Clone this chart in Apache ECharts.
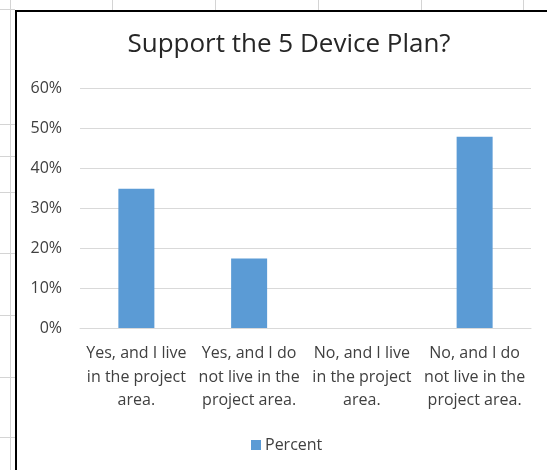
<!DOCTYPE html>
<html>
<head>
<meta charset="utf-8">
<script src="https://cdn.jsdelivr.net/npm/echarts@6/dist/echarts.min.js"></script>
<style>
  html, body { margin: 0; padding: 0; background: #ffffff; }
  #chart { width: 547px; height: 470px; }
</style>
</head>
<body>
<div id="chart"></div>
<script>
// Survey answers and share of respondents (percent)
const categories = [
  'Yes, and I live in the project area.',
  'Yes, and I do not live in the project area.',
  'No, and I live in the project area.',
  'No, and I do not live in the project area.'
];
const percentValues = [34.8, 17.4, 0, 47.8];
const yTicks = [0, 10, 20, 30, 40, 50, 60];
const seriesName = 'Percent';
const chartTitle = 'Support the 5 Device Plan?';

// Wrapped label text for each category
const wrappedLabels = [
  'Yes, and I live\nin the project\narea.',
  'Yes, and I do\nnot live in the\nproject area.',
  'No, and I live\nin the project\narea.',
  'No, and I do\nnot live in the\nproject area.'
];

const FONT = '"Open Sans", "Noto Sans", sans-serif';
const chart = echarts.init(document.getElementById('chart'), null, { renderer: 'canvas' });

// Worksheet cell lines behind the chart frame
const sheetGray = '#d4d4d4';
const sheetLines = [];
[9, 124, 156, 192, 253, 315, 377, 437].forEach(function (y) {
  sheetLines.push({ type: 'line', shape: { x1: 0, y1: y + 0.5, x2: 15, y2: y + 0.5 }, style: { stroke: sheetGray, lineWidth: 1 }, z: 0 });
});
sheetLines.push({ type: 'line', shape: { x1: 10.5, y1: 0, x2: 10.5, y2: 470 }, style: { stroke: sheetGray, lineWidth: 1 }, z: 0 });
[112, 215, 318, 421, 523].forEach(function (x) {
  sheetLines.push({ type: 'line', shape: { x1: x + 0.5, y1: 0, x2: x + 0.5, y2: 10 }, style: { stroke: sheetGray, lineWidth: 1 }, z: 0 });
});
// Chart frame (left and top edges)
sheetLines.push({ type: 'polyline', shape: { points: [[16, 470], [16, 11], [547, 11]] }, style: { stroke: '#000000', lineWidth: 2, fill: null }, z: 1 });

chart.setOption({
  animation: false,
  backgroundColor: '#ffffff',
  graphic: sheetLines,
  title: {
    text: chartTitle,
    left: 284,
    textAlign: 'center',
    top: 27,
    textStyle: { fontFamily: FONT, fontSize: 26, fontWeight: 'normal', color: '#262626' }
  },
  legend: {
    data: [seriesName],
    left: 246,
    top: 432,
    itemWidth: 10,
    itemHeight: 10,
    itemGap: 6,
    icon: 'rect',
    textStyle: { fontFamily: FONT, fontSize: 16, color: '#404040', padding: [0, 0, 0, -1] }
  },
  grid: { left: 80, right: 16, top: 88, bottom: 142, containLabel: false },
  xAxis: {
    type: 'category',
    data: categories,
    axisLine: { lineStyle: { color: '#d9d9d9', width: 1 } },
    axisTick: { show: false },
    axisLabel: {
      interval: 0,
      margin: 14,
      lineHeight: 23.5,
      fontFamily: FONT,
      fontSize: 16,
      color: '#404040',
      formatter: function (v, i) { return wrappedLabels[i]; }
    }
  },
  yAxis: {
    type: 'value',
    min: yTicks[0],
    max: yTicks[yTicks.length - 1],
    interval: 10,
    axisLine: { show: false },
    axisTick: { show: false },
    splitLine: { lineStyle: { color: '#d9d9d9', width: 1 } },
    axisLabel: {
      margin: 18,
      fontFamily: FONT,
      fontSize: 16,
      color: '#404040',
      formatter: function (v) { return v + '%'; }
    }
  },
  series: [{
    name: seriesName,
    type: 'bar',
    data: percentValues,
    barWidth: 36,
    itemStyle: { color: '#5b9bd5' }
  }]
});
</script>
</body>
</html>
